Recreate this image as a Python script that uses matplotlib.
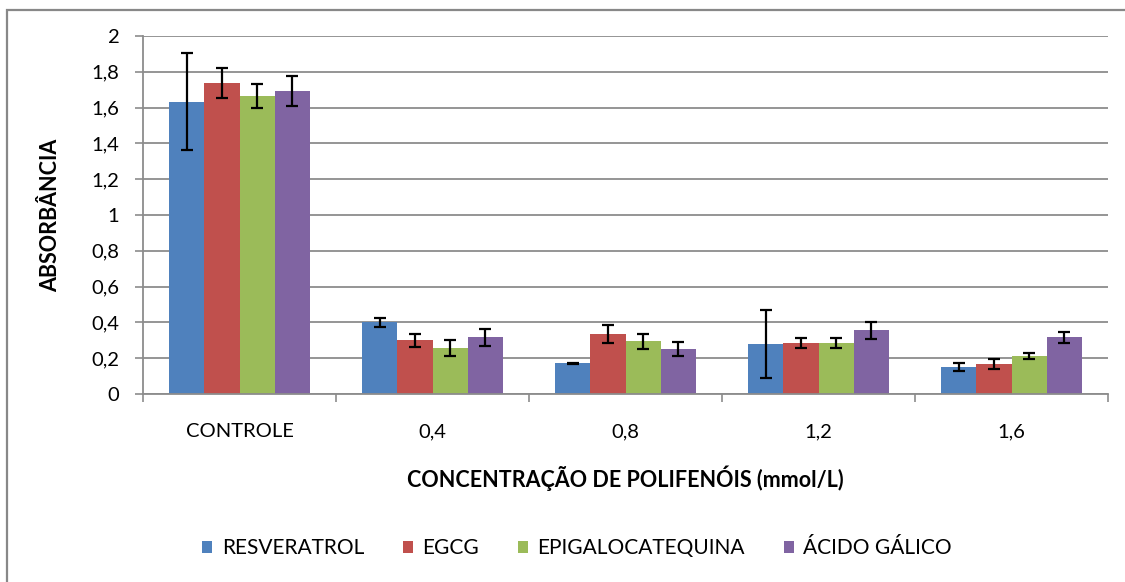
import matplotlib
matplotlib.use("Agg")
import matplotlib.pyplot as plt
import numpy as np
from matplotlib.patches import Rectangle

categories = ["CONTROLE", "0,4", "0,8", "1,2", "1,6"]
series_names = ["RESVERATROL", "EGCG", "EPIGALOCATEQUINA", "ÁCIDO GÁLICO"]
resveratrol = [1.633, 0.400, 0.171, 0.277, 0.149]
egcg = [1.737, 0.300, 0.333, 0.285, 0.166]
epigalocatequina = [1.667, 0.255, 0.294, 0.285, 0.211]
acido_galico = [1.693, 0.317, 0.250, 0.357, 0.317]
err_resveratrol = [0.270, 0.025, 0.003, 0.190, 0.022]
err_egcg = [0.083, 0.037, 0.050, 0.030, 0.028]
err_epigalocatequina = [0.067, 0.044, 0.040, 0.030, 0.017]
err_acido_galico = [0.082, 0.047, 0.040, 0.047, 0.032]
y_ticks = [0, 0.2, 0.4, 0.6, 0.8, 1.0, 1.2, 1.4, 1.6, 1.8, 2.0]
y_ticklabels = ["0", "0,2", "0,4", "0,6", "0,8", "1", "1,2", "1,4", "1,6", "1,8", "2"]

values = [resveratrol, egcg, epigalocatequina, acido_galico]
errors = [err_resveratrol, err_egcg, err_epigalocatequina, err_acido_galico]
colors = ["#4F81BD", "#C0504D", "#9BBB59", "#8064A2"]

W, H = 1125, 582
fig = plt.figure(figsize=(W / 100, H / 100), dpi=100)
fig.patch.set_facecolor("white")

# outer frame
fig.add_artist(Rectangle((7 / W, -0.1), 1.2, 1 - 10 / H + 0.1, transform=fig.transFigure,
                         fill=False, edgecolor="#888888", linewidth=1.6))

left, right, top, bottom = 143, 1108, 36, 394
ax = fig.add_axes([left / W, 1 - bottom / H, (right - left) / W, (bottom - top) / H])

font = ["Lato", "DejaVu Sans"]
fs = 14.5
fsb = 15.5
n = len(categories)
x = np.arange(n)
bw = 1 / 5.5
for i, (vals, errs, c, name) in enumerate(zip(values, errors, colors, series_names)):
    pos = x + (i - 1.5) * bw
    ax.bar(pos, vals, width=bw, color=c, label=name, zorder=2)
    ax.errorbar(pos, vals, yerr=errs, fmt="none", ecolor="black", elinewidth=1.6,
                capsize=4.5, capthick=1.6, zorder=3)

ax.set_xlim(-0.5, n - 0.5)
ax.set_ylim(0, 2)
ax.set_yticks(y_ticks)
ax.set_yticklabels(y_ticklabels, family=font, fontsize=fs)
ax.yaxis.grid(True, color="#8C8C8C", linewidth=1.3, zorder=0)
ax.set_axisbelow(True)
ax.set_xticks(x)
ax.set_xticklabels(categories, family=font, fontsize=fs)
ax.set_xticks(np.arange(n + 1) - 0.5, minor=True)
ax.tick_params(axis="x", which="major", length=0, pad=21)
ax.tick_params(axis="x", which="minor", length=6, width=1.2, color="#8C8C8C", direction="out")
ax.tick_params(axis="y", length=6, width=1.2, color="#8C8C8C", direction="out", pad=11)
for s in ["top", "right"]:
    ax.spines[s].set_visible(False)
for s in ["left", "bottom"]:
    ax.spines[s].set_color("#8C8C8C")
    ax.spines[s].set_linewidth(1.3)

ax.set_xlabel("CONCENTRAÇÃO DE POLIFENÓIS (mmol/L)", family=font, fontsize=fsb,
              fontweight="bold", labelpad=18)
ax.set_ylabel("ABSORBÂNCIA", family=font, fontsize=fsb, fontweight="bold", labelpad=22)

leg = fig.legend(loc="center", bbox_to_anchor=(577 / W, 1 - 548 / H), ncol=4, frameon=False,
                 prop={"family": font, "size": 15},
                 handlelength=0.5, handleheight=0.5, handletextpad=0.45, columnspacing=1.85)

fig.savefig("out.png", dpi=100, facecolor="white")
